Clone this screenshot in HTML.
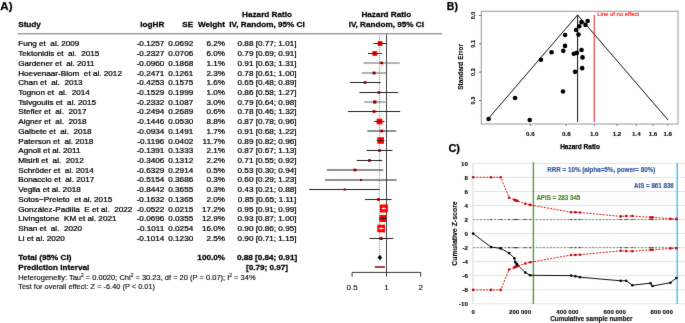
<!DOCTYPE html>
<html><head><meta charset="utf-8"><style>
html,body{margin:0;padding:0;background:#fff;}
body{width:685px;height:323px;overflow:hidden;font-family:"Liberation Sans",sans-serif;}
svg{display:block;} text{white-space:pre;} .n{stroke:#000;stroke-width:0.24px;} .b{stroke:#000;stroke-width:0.25px;} .c{stroke:#000;stroke-width:0.1px;}
</style></head><body>
<svg width="685" height="323" viewBox="0 0 685 323" font-family="Liberation Sans, sans-serif"><defs><filter id="bl" x="0" y="0" width="685" height="323" filterUnits="userSpaceOnUse" color-interpolation-filters="sRGB"><feConvolveMatrix order="3" kernelMatrix="0.0052 0.0619 0.0052 0.0619 0.7314 0.0619 0.0052 0.0619 0.0052" edgeMode="duplicate"/></filter></defs><g filter="url(#bl)"><rect width="685" height="323" fill="#fff"/><text class="b" x="0.30" y="9.80" font-size="11.6" font-weight="bold" text-anchor="start" fill="#000" >A)</text>
<text class="b" transform="translate(18.20,27.00) scale(1.06,1)" font-size="7.7" font-weight="bold" text-anchor="start" fill="#000" >Study</text>
<text class="b" transform="translate(164.30,27.00) scale(1.06,1)" font-size="7.7" font-weight="bold" text-anchor="end" fill="#000" >logHR</text>
<text class="b" transform="translate(193.20,27.00) scale(1.06,1)" font-size="7.7" font-weight="bold" text-anchor="end" fill="#000" >SE</text>
<text class="b" transform="translate(225.00,27.00) scale(1.06,1)" font-size="7.7" font-weight="bold" text-anchor="end" fill="#000" >Weight</text>
<text class="b" transform="translate(267.00,17.00) scale(1.06,1)" font-size="7.7" font-weight="bold" text-anchor="middle" fill="#000" >Hazard Ratio</text>
<text class="b" transform="translate(267.00,27.00) scale(1.06,1)" font-size="7.7" font-weight="bold" text-anchor="middle" fill="#000" >IV, Random, 95% CI</text>
<text class="b" transform="translate(386.30,17.00) scale(1.06,1)" font-size="7.7" font-weight="bold" text-anchor="middle" fill="#000" >Hazard Ratio</text>
<text class="b" transform="translate(386.30,27.00) scale(1.06,1)" font-size="7.7" font-weight="bold" text-anchor="middle" fill="#000" >IV, Random, 95% CI</text>
<rect x="17.7" y="33.0" width="424.6" height="1.4" fill="#9a9a9a"/>
<text class="n" transform="translate(18.20,46.40) scale(1.06,1)" font-size="7.7" font-weight="normal" text-anchor="start" fill="#000" >Fung et  al. 2009</text>
<text class="n" transform="translate(164.30,46.40) scale(1.06,1)" font-size="7.7" font-weight="normal" text-anchor="end" fill="#000" >-0.1257</text>
<text class="n" transform="translate(193.20,46.40) scale(1.06,1)" font-size="7.7" font-weight="normal" text-anchor="end" fill="#000" >0.0692</text>
<text class="n" transform="translate(225.00,46.40) scale(1.06,1)" font-size="7.7" font-weight="normal" text-anchor="end" fill="#000" >6.2%</text>
<text class="n" transform="translate(267.00,46.40) scale(1.06,1)" font-size="7.7" font-weight="normal" text-anchor="middle" fill="#000" >0.88 [0.77; 1.01]</text>
<text class="n" transform="translate(18.20,56.12) scale(1.06,1)" font-size="7.7" font-weight="normal" text-anchor="start" fill="#000" >Tektonidis et  al.  2015</text>
<text class="n" transform="translate(164.30,56.12) scale(1.06,1)" font-size="7.7" font-weight="normal" text-anchor="end" fill="#000" >-0.2327</text>
<text class="n" transform="translate(193.20,56.12) scale(1.06,1)" font-size="7.7" font-weight="normal" text-anchor="end" fill="#000" >0.0706</text>
<text class="n" transform="translate(225.00,56.12) scale(1.06,1)" font-size="7.7" font-weight="normal" text-anchor="end" fill="#000" >6.0%</text>
<text class="n" transform="translate(267.00,56.12) scale(1.06,1)" font-size="7.7" font-weight="normal" text-anchor="middle" fill="#000" >0.79 [0.69; 0.91]</text>
<text class="n" transform="translate(18.20,65.84) scale(1.06,1)" font-size="7.7" font-weight="normal" text-anchor="start" fill="#000" >Gardener et  al. 2011</text>
<text class="n" transform="translate(164.30,65.84) scale(1.06,1)" font-size="7.7" font-weight="normal" text-anchor="end" fill="#000" >-0.0960</text>
<text class="n" transform="translate(193.20,65.84) scale(1.06,1)" font-size="7.7" font-weight="normal" text-anchor="end" fill="#000" >0.1868</text>
<text class="n" transform="translate(225.00,65.84) scale(1.06,1)" font-size="7.7" font-weight="normal" text-anchor="end" fill="#000" >1.1%</text>
<text class="n" transform="translate(267.00,65.84) scale(1.06,1)" font-size="7.7" font-weight="normal" text-anchor="middle" fill="#000" >0.91 [0.63; 1.31]</text>
<text class="n" transform="translate(18.20,75.56) scale(1.06,1)" font-size="7.7" font-weight="normal" text-anchor="start" fill="#000" >Hoevenaar-Blom  et al. 2012</text>
<text class="n" transform="translate(164.30,75.56) scale(1.06,1)" font-size="7.7" font-weight="normal" text-anchor="end" fill="#000" >-0.2471</text>
<text class="n" transform="translate(193.20,75.56) scale(1.06,1)" font-size="7.7" font-weight="normal" text-anchor="end" fill="#000" >0.1261</text>
<text class="n" transform="translate(225.00,75.56) scale(1.06,1)" font-size="7.7" font-weight="normal" text-anchor="end" fill="#000" >2.3%</text>
<text class="n" transform="translate(267.00,75.56) scale(1.06,1)" font-size="7.7" font-weight="normal" text-anchor="middle" fill="#000" >0.78 [0.61; 1.00]</text>
<text class="n" transform="translate(18.20,85.28) scale(1.06,1)" font-size="7.7" font-weight="normal" text-anchor="start" fill="#000" >Chan et  al.  2013</text>
<text class="n" transform="translate(164.30,85.28) scale(1.06,1)" font-size="7.7" font-weight="normal" text-anchor="end" fill="#000" >-0.4253</text>
<text class="n" transform="translate(193.20,85.28) scale(1.06,1)" font-size="7.7" font-weight="normal" text-anchor="end" fill="#000" >0.1575</text>
<text class="n" transform="translate(225.00,85.28) scale(1.06,1)" font-size="7.7" font-weight="normal" text-anchor="end" fill="#000" >1.6%</text>
<text class="n" transform="translate(267.00,85.28) scale(1.06,1)" font-size="7.7" font-weight="normal" text-anchor="middle" fill="#000" >0.65 [0.48; 0.89]</text>
<text class="n" transform="translate(18.20,95.00) scale(1.06,1)" font-size="7.7" font-weight="normal" text-anchor="start" fill="#000" >Tognon et  al.  2014</text>
<text class="n" transform="translate(164.30,95.00) scale(1.06,1)" font-size="7.7" font-weight="normal" text-anchor="end" fill="#000" >-0.1529</text>
<text class="n" transform="translate(193.20,95.00) scale(1.06,1)" font-size="7.7" font-weight="normal" text-anchor="end" fill="#000" >0.1999</text>
<text class="n" transform="translate(225.00,95.00) scale(1.06,1)" font-size="7.7" font-weight="normal" text-anchor="end" fill="#000" >1.0%</text>
<text class="n" transform="translate(267.00,95.00) scale(1.06,1)" font-size="7.7" font-weight="normal" text-anchor="middle" fill="#000" >0.86 [0.58; 1.27]</text>
<text class="n" transform="translate(18.20,104.72) scale(1.06,1)" font-size="7.7" font-weight="normal" text-anchor="start" fill="#000" >Tsivgoulis et  al. 2015</text>
<text class="n" transform="translate(164.30,104.72) scale(1.06,1)" font-size="7.7" font-weight="normal" text-anchor="end" fill="#000" >-0.2332</text>
<text class="n" transform="translate(193.20,104.72) scale(1.06,1)" font-size="7.7" font-weight="normal" text-anchor="end" fill="#000" >0.1087</text>
<text class="n" transform="translate(225.00,104.72) scale(1.06,1)" font-size="7.7" font-weight="normal" text-anchor="end" fill="#000" >3.0%</text>
<text class="n" transform="translate(267.00,104.72) scale(1.06,1)" font-size="7.7" font-weight="normal" text-anchor="middle" fill="#000" >0.79 [0.64; 0.98]</text>
<text class="n" transform="translate(18.20,114.44) scale(1.06,1)" font-size="7.7" font-weight="normal" text-anchor="start" fill="#000" >Stefler et  al.  2017</text>
<text class="n" transform="translate(164.30,114.44) scale(1.06,1)" font-size="7.7" font-weight="normal" text-anchor="end" fill="#000" >-0.2494</text>
<text class="n" transform="translate(193.20,114.44) scale(1.06,1)" font-size="7.7" font-weight="normal" text-anchor="end" fill="#000" >0.2689</text>
<text class="n" transform="translate(225.00,114.44) scale(1.06,1)" font-size="7.7" font-weight="normal" text-anchor="end" fill="#000" >0.6%</text>
<text class="n" transform="translate(267.00,114.44) scale(1.06,1)" font-size="7.7" font-weight="normal" text-anchor="middle" fill="#000" >0.78 [0.46; 1.32]</text>
<text class="n" transform="translate(18.20,124.16) scale(1.06,1)" font-size="7.7" font-weight="normal" text-anchor="start" fill="#000" >Aigner et  al.  2018</text>
<text class="n" transform="translate(164.30,124.16) scale(1.06,1)" font-size="7.7" font-weight="normal" text-anchor="end" fill="#000" >-0.1446</text>
<text class="n" transform="translate(193.20,124.16) scale(1.06,1)" font-size="7.7" font-weight="normal" text-anchor="end" fill="#000" >0.0530</text>
<text class="n" transform="translate(225.00,124.16) scale(1.06,1)" font-size="7.7" font-weight="normal" text-anchor="end" fill="#000" >8.8%</text>
<text class="n" transform="translate(267.00,124.16) scale(1.06,1)" font-size="7.7" font-weight="normal" text-anchor="middle" fill="#000" >0.87 [0.78; 0.96]</text>
<text class="n" transform="translate(18.20,133.88) scale(1.06,1)" font-size="7.7" font-weight="normal" text-anchor="start" fill="#000" >Galbete et  al.  2018</text>
<text class="n" transform="translate(164.30,133.88) scale(1.06,1)" font-size="7.7" font-weight="normal" text-anchor="end" fill="#000" >-0.0934</text>
<text class="n" transform="translate(193.20,133.88) scale(1.06,1)" font-size="7.7" font-weight="normal" text-anchor="end" fill="#000" >0.1491</text>
<text class="n" transform="translate(225.00,133.88) scale(1.06,1)" font-size="7.7" font-weight="normal" text-anchor="end" fill="#000" >1.7%</text>
<text class="n" transform="translate(267.00,133.88) scale(1.06,1)" font-size="7.7" font-weight="normal" text-anchor="middle" fill="#000" >0.91 [0.68; 1.22]</text>
<text class="n" transform="translate(18.20,143.60) scale(1.06,1)" font-size="7.7" font-weight="normal" text-anchor="start" fill="#000" >Paterson et  al. 2018</text>
<text class="n" transform="translate(164.30,143.60) scale(1.06,1)" font-size="7.7" font-weight="normal" text-anchor="end" fill="#000" >-0.1196</text>
<text class="n" transform="translate(193.20,143.60) scale(1.06,1)" font-size="7.7" font-weight="normal" text-anchor="end" fill="#000" >0.0402</text>
<text class="n" transform="translate(225.00,143.60) scale(1.06,1)" font-size="7.7" font-weight="normal" text-anchor="end" fill="#000" >11.7%</text>
<text class="n" transform="translate(267.00,143.60) scale(1.06,1)" font-size="7.7" font-weight="normal" text-anchor="middle" fill="#000" >0.89 [0.82; 0.96]</text>
<text class="n" transform="translate(18.20,153.32) scale(1.06,1)" font-size="7.7" font-weight="normal" text-anchor="start" fill="#000" >Agnoli et al. 2011</text>
<text class="n" transform="translate(164.30,153.32) scale(1.06,1)" font-size="7.7" font-weight="normal" text-anchor="end" fill="#000" >-0.1391</text>
<text class="n" transform="translate(193.20,153.32) scale(1.06,1)" font-size="7.7" font-weight="normal" text-anchor="end" fill="#000" >0.1333</text>
<text class="n" transform="translate(225.00,153.32) scale(1.06,1)" font-size="7.7" font-weight="normal" text-anchor="end" fill="#000" >2.1%</text>
<text class="n" transform="translate(267.00,153.32) scale(1.06,1)" font-size="7.7" font-weight="normal" text-anchor="middle" fill="#000" >0.87 [0.67; 1.13]</text>
<text class="n" transform="translate(18.20,163.04) scale(1.06,1)" font-size="7.7" font-weight="normal" text-anchor="start" fill="#000" >Misirli et  al.  2012</text>
<text class="n" transform="translate(164.30,163.04) scale(1.06,1)" font-size="7.7" font-weight="normal" text-anchor="end" fill="#000" >-0.3406</text>
<text class="n" transform="translate(193.20,163.04) scale(1.06,1)" font-size="7.7" font-weight="normal" text-anchor="end" fill="#000" >0.1312</text>
<text class="n" transform="translate(225.00,163.04) scale(1.06,1)" font-size="7.7" font-weight="normal" text-anchor="end" fill="#000" >2.2%</text>
<text class="n" transform="translate(267.00,163.04) scale(1.06,1)" font-size="7.7" font-weight="normal" text-anchor="middle" fill="#000" >0.71 [0.55; 0.92]</text>
<text class="n" transform="translate(18.20,172.76) scale(1.06,1)" font-size="7.7" font-weight="normal" text-anchor="start" fill="#000" >Schröder et  al. 2014</text>
<text class="n" transform="translate(164.30,172.76) scale(1.06,1)" font-size="7.7" font-weight="normal" text-anchor="end" fill="#000" >-0.6329</text>
<text class="n" transform="translate(193.20,172.76) scale(1.06,1)" font-size="7.7" font-weight="normal" text-anchor="end" fill="#000" >0.2914</text>
<text class="n" transform="translate(225.00,172.76) scale(1.06,1)" font-size="7.7" font-weight="normal" text-anchor="end" fill="#000" >0.5%</text>
<text class="n" transform="translate(267.00,172.76) scale(1.06,1)" font-size="7.7" font-weight="normal" text-anchor="middle" fill="#000" >0.53 [0.30; 0.94]</text>
<text class="n" transform="translate(18.20,182.48) scale(1.06,1)" font-size="7.7" font-weight="normal" text-anchor="start" fill="#000" >Bonaccio et  al. 2017</text>
<text class="n" transform="translate(164.30,182.48) scale(1.06,1)" font-size="7.7" font-weight="normal" text-anchor="end" fill="#000" >-0.5154</text>
<text class="n" transform="translate(193.20,182.48) scale(1.06,1)" font-size="7.7" font-weight="normal" text-anchor="end" fill="#000" >0.3686</text>
<text class="n" transform="translate(225.00,182.48) scale(1.06,1)" font-size="7.7" font-weight="normal" text-anchor="end" fill="#000" >0.3%</text>
<text class="n" transform="translate(267.00,182.48) scale(1.06,1)" font-size="7.7" font-weight="normal" text-anchor="middle" fill="#000" >0.60 [0.29; 1.23]</text>
<text class="n" transform="translate(18.20,192.20) scale(1.06,1)" font-size="7.7" font-weight="normal" text-anchor="start" fill="#000" >Veglia et al. 2018</text>
<text class="n" transform="translate(164.30,192.20) scale(1.06,1)" font-size="7.7" font-weight="normal" text-anchor="end" fill="#000" >-0.8442</text>
<text class="n" transform="translate(193.20,192.20) scale(1.06,1)" font-size="7.7" font-weight="normal" text-anchor="end" fill="#000" >0.3655</text>
<text class="n" transform="translate(225.00,192.20) scale(1.06,1)" font-size="7.7" font-weight="normal" text-anchor="end" fill="#000" >0.3%</text>
<text class="n" transform="translate(267.00,192.20) scale(1.06,1)" font-size="7.7" font-weight="normal" text-anchor="middle" fill="#000" >0.43 [0.21; 0.88]</text>
<text class="n" transform="translate(18.20,201.92) scale(1.06,1)" font-size="7.7" font-weight="normal" text-anchor="start" fill="#000" >Sotos−Preieto  et al. 2015</text>
<text class="n" transform="translate(164.30,201.92) scale(1.06,1)" font-size="7.7" font-weight="normal" text-anchor="end" fill="#000" >-0.1632</text>
<text class="n" transform="translate(193.20,201.92) scale(1.06,1)" font-size="7.7" font-weight="normal" text-anchor="end" fill="#000" >0.1365</text>
<text class="n" transform="translate(225.00,201.92) scale(1.06,1)" font-size="7.7" font-weight="normal" text-anchor="end" fill="#000" >2.0%</text>
<text class="n" transform="translate(267.00,201.92) scale(1.06,1)" font-size="7.7" font-weight="normal" text-anchor="middle" fill="#000" >0.85 [0.65; 1.11]</text>
<text class="n" transform="translate(18.20,211.64) scale(1.06,1)" font-size="7.7" font-weight="normal" text-anchor="start" fill="#000" >González-Padilla  E et al.  2022</text>
<text class="n" transform="translate(164.30,211.64) scale(1.06,1)" font-size="7.7" font-weight="normal" text-anchor="end" fill="#000" >-0.0522</text>
<text class="n" transform="translate(193.20,211.64) scale(1.06,1)" font-size="7.7" font-weight="normal" text-anchor="end" fill="#000" >0.0215</text>
<text class="n" transform="translate(225.00,211.64) scale(1.06,1)" font-size="7.7" font-weight="normal" text-anchor="end" fill="#000" >17.2%</text>
<text class="n" transform="translate(267.00,211.64) scale(1.06,1)" font-size="7.7" font-weight="normal" text-anchor="middle" fill="#000" >0.95 [0.91; 0.99]</text>
<text class="n" transform="translate(18.20,221.36) scale(1.06,1)" font-size="7.7" font-weight="normal" text-anchor="start" fill="#000" >Livingstone  KM et al. 2021</text>
<text class="n" transform="translate(164.30,221.36) scale(1.06,1)" font-size="7.7" font-weight="normal" text-anchor="end" fill="#000" >-0.0696</text>
<text class="n" transform="translate(193.20,221.36) scale(1.06,1)" font-size="7.7" font-weight="normal" text-anchor="end" fill="#000" >0.0355</text>
<text class="n" transform="translate(225.00,221.36) scale(1.06,1)" font-size="7.7" font-weight="normal" text-anchor="end" fill="#000" >12.9%</text>
<text class="n" transform="translate(267.00,221.36) scale(1.06,1)" font-size="7.7" font-weight="normal" text-anchor="middle" fill="#000" >0.93 [0.87; 1.00]</text>
<text class="n" transform="translate(18.20,231.08) scale(1.06,1)" font-size="7.7" font-weight="normal" text-anchor="start" fill="#000" >Shan et  al.  2020</text>
<text class="n" transform="translate(164.30,231.08) scale(1.06,1)" font-size="7.7" font-weight="normal" text-anchor="end" fill="#000" >-0.1011</text>
<text class="n" transform="translate(193.20,231.08) scale(1.06,1)" font-size="7.7" font-weight="normal" text-anchor="end" fill="#000" >0.0254</text>
<text class="n" transform="translate(225.00,231.08) scale(1.06,1)" font-size="7.7" font-weight="normal" text-anchor="end" fill="#000" >16.0%</text>
<text class="n" transform="translate(267.00,231.08) scale(1.06,1)" font-size="7.7" font-weight="normal" text-anchor="middle" fill="#000" >0.90 [0.86; 0.95]</text>
<text class="n" transform="translate(18.20,240.80) scale(1.06,1)" font-size="7.7" font-weight="normal" text-anchor="start" fill="#000" >Li et al. 2020</text>
<text class="n" transform="translate(164.30,240.80) scale(1.06,1)" font-size="7.7" font-weight="normal" text-anchor="end" fill="#000" >-0.1014</text>
<text class="n" transform="translate(193.20,240.80) scale(1.06,1)" font-size="7.7" font-weight="normal" text-anchor="end" fill="#000" >0.1230</text>
<text class="n" transform="translate(225.00,240.80) scale(1.06,1)" font-size="7.7" font-weight="normal" text-anchor="end" fill="#000" >2.5%</text>
<text class="n" transform="translate(267.00,240.80) scale(1.06,1)" font-size="7.7" font-weight="normal" text-anchor="middle" fill="#000" >0.90 [0.71; 1.15]</text>
<text class="b" transform="translate(18.20,260.20) scale(1.06,1)" font-size="7.7" font-weight="bold" text-anchor="start" fill="#000" >Total (95% CI)</text>
<text class="b" transform="translate(225.00,260.20) scale(1.06,1)" font-size="7.7" font-weight="bold" text-anchor="end" fill="#000" >100.0%</text>
<text class="b" transform="translate(267.00,260.20) scale(1.06,1)" font-size="7.7" font-weight="bold" text-anchor="middle" fill="#000" >0.88 [0.84; 0.91]</text>
<text class="b" transform="translate(18.20,269.80) scale(1.06,1)" font-size="7.7" font-weight="bold" text-anchor="start" fill="#000" >Prediction interval</text>
<text class="b" transform="translate(267.00,269.80) scale(1.06,1)" font-size="7.7" font-weight="bold" text-anchor="middle" fill="#000" >[0.79; 0.97]</text>
<text stroke="#000" stroke-width="0.12" transform="translate(18.2,279.8) scale(1.073,1)" font-size="7.0" fill="#000">Heterogeneity: Tau<tspan font-size="4.5" dy="-2.6">2</tspan><tspan dy="2.6"> = 0.0020; Chi</tspan><tspan font-size="4.5" dy="-2.6">2</tspan><tspan dy="2.6"> = 30.23, df = 20 (P = 0.07); I</tspan><tspan font-size="4.5" dy="-2.6">2</tspan><tspan dy="2.6"> = 34%</tspan></text>
<text transform="translate(18.20,288.50) scale(1.06,1)" font-size="7.0" font-weight="normal" text-anchor="start" fill="#0a0a0a" stroke="#0a0a0a" stroke-width="0.12">Test for overall effect: Z = -6.40 (P &lt; 0.01)</text>
<line x1="379.5" y1="35" x2="379.5" y2="256" stroke="#8a8a8a" stroke-width="0.9" stroke-dasharray="1,1"/>
<line x1="386.5" y1="34.4" x2="386.5" y2="272.4" stroke="#444" stroke-width="1"/>
<line x1="373.46" y1="43.50" x2="386.89" y2="43.50" stroke="#222" stroke-width="1"/>
<rect x="377.67" y="41.10" width="4.81" height="4.81" fill="#ff0000"/>
<line x1="377.67" y1="43.50" x2="382.48" y2="43.50" stroke="#222" stroke-width="0.9"/>
<rect x="379.17" y="42.60" width="1.8" height="1.8" fill="#600"/>
<line x1="368.03" y1="53.50" x2="381.73" y2="53.50" stroke="#222" stroke-width="1"/>
<rect x="372.37" y="51.14" width="4.73" height="4.73" fill="#ff0000"/>
<line x1="372.37" y1="53.50" x2="377.10" y2="53.50" stroke="#222" stroke-width="0.9"/>
<rect x="373.83" y="52.60" width="1.8" height="1.8" fill="#600"/>
<line x1="363.53" y1="63.00" x2="399.77" y2="63.00" stroke="#666" stroke-width="1"/>
<rect x="380.33" y="61.60" width="2.80" height="2.80" fill="#ff0000"/>
<line x1="380.33" y1="63.00" x2="383.13" y2="63.00" stroke="#222" stroke-width="0.9"/>
<rect x="380.83" y="62.10" width="1.8" height="1.8" fill="#600"/>
<line x1="361.93" y1="73.00" x2="386.40" y2="73.00" stroke="#666" stroke-width="1"/>
<rect x="372.64" y="71.54" width="2.93" height="2.93" fill="#ff0000"/>
<line x1="372.64" y1="73.00" x2="375.56" y2="73.00" stroke="#222" stroke-width="0.9"/>
<rect x="373.20" y="72.10" width="1.8" height="1.8" fill="#600"/>
<line x1="350.07" y1="82.50" x2="380.63" y2="82.50" stroke="#222" stroke-width="1"/>
<rect x="363.68" y="81.10" width="2.80" height="2.80" fill="#ff0000"/>
<line x1="363.68" y1="82.50" x2="366.48" y2="82.50" stroke="#222" stroke-width="0.9"/>
<rect x="364.18" y="81.60" width="1.8" height="1.8" fill="#600"/>
<line x1="359.44" y1="92.50" x2="398.23" y2="92.50" stroke="#222" stroke-width="1"/>
<rect x="377.53" y="91.10" width="2.80" height="2.80" fill="#ff0000"/>
<line x1="377.53" y1="92.50" x2="380.33" y2="92.50" stroke="#222" stroke-width="0.9"/>
<rect x="378.03" y="91.60" width="1.8" height="1.8" fill="#600"/>
<line x1="364.31" y1="102.00" x2="385.40" y2="102.00" stroke="#666" stroke-width="1"/>
<rect x="373.06" y="100.33" width="3.34" height="3.34" fill="#ff0000"/>
<line x1="373.06" y1="102.00" x2="376.40" y2="102.00" stroke="#222" stroke-width="0.9"/>
<rect x="373.83" y="101.10" width="1.8" height="1.8" fill="#600"/>
<line x1="347.96" y1="111.50" x2="400.14" y2="111.50" stroke="#222" stroke-width="1"/>
<rect x="372.70" y="110.10" width="2.80" height="2.80" fill="#ff0000"/>
<line x1="372.70" y1="111.50" x2="375.50" y2="111.50" stroke="#222" stroke-width="0.9"/>
<rect x="373.20" y="110.60" width="1.8" height="1.8" fill="#600"/>
<line x1="374.10" y1="121.50" x2="384.38" y2="121.50" stroke="#222" stroke-width="1"/>
<rect x="376.64" y="118.64" width="5.73" height="5.73" fill="#ff0000"/>
<line x1="376.64" y1="121.50" x2="382.37" y2="121.50" stroke="#222" stroke-width="0.9"/>
<rect x="378.61" y="120.60" width="1.8" height="1.8" fill="#600"/>
<line x1="367.31" y1="131.00" x2="396.24" y2="131.00" stroke="#222" stroke-width="1"/>
<rect x="380.33" y="129.60" width="2.80" height="2.80" fill="#ff0000"/>
<line x1="380.33" y1="131.00" x2="383.13" y2="131.00" stroke="#222" stroke-width="0.9"/>
<rect x="380.83" y="130.10" width="1.8" height="1.8" fill="#600"/>
<line x1="376.58" y1="140.50" x2="384.38" y2="140.50" stroke="#222" stroke-width="1"/>
<rect x="377.33" y="137.20" width="6.60" height="6.60" fill="#ff0000"/>
<line x1="377.33" y1="140.50" x2="383.93" y2="140.50" stroke="#222" stroke-width="0.9"/>
<rect x="379.73" y="139.60" width="1.8" height="1.8" fill="#600"/>
<line x1="366.58" y1="150.50" x2="392.45" y2="150.50" stroke="#222" stroke-width="1"/>
<rect x="378.11" y="149.10" width="2.80" height="2.80" fill="#ff0000"/>
<line x1="378.11" y1="150.50" x2="380.91" y2="150.50" stroke="#222" stroke-width="0.9"/>
<rect x="378.61" y="149.60" width="1.8" height="1.8" fill="#600"/>
<line x1="356.81" y1="160.50" x2="382.27" y2="160.50" stroke="#222" stroke-width="1"/>
<rect x="368.02" y="159.07" width="2.86" height="2.86" fill="#ff0000"/>
<line x1="368.02" y1="160.50" x2="370.88" y2="160.50" stroke="#222" stroke-width="0.9"/>
<rect x="368.55" y="159.60" width="1.8" height="1.8" fill="#600"/>
<line x1="326.80" y1="170.00" x2="383.34" y2="170.00" stroke="#222" stroke-width="1"/>
<rect x="353.57" y="168.60" width="2.80" height="2.80" fill="#ff0000"/>
<line x1="353.57" y1="170.00" x2="356.37" y2="170.00" stroke="#222" stroke-width="0.9"/>
<rect x="354.07" y="169.10" width="1.8" height="1.8" fill="#600"/>
<line x1="325.13" y1="180.00" x2="396.65" y2="180.00" stroke="#222" stroke-width="1"/>
<rect x="360.11" y="179.00" width="2.00" height="2.00" fill="#ff0000"/>
<line x1="360.11" y1="180.00" x2="362.11" y2="180.00" stroke="#222" stroke-width="0.9"/>
<rect x="360.36" y="179.25" width="1.5" height="1.5" fill="#600"/>
<line x1="309.15" y1="189.50" x2="380.07" y2="189.50" stroke="#222" stroke-width="1"/>
<rect x="343.62" y="188.50" width="2.00" height="2.00" fill="#ff0000"/>
<line x1="343.62" y1="189.50" x2="345.62" y2="189.50" stroke="#222" stroke-width="0.9"/>
<rect x="343.87" y="188.75" width="1.5" height="1.5" fill="#600"/>
<line x1="365.08" y1="199.50" x2="391.57" y2="199.50" stroke="#222" stroke-width="1"/>
<rect x="376.96" y="198.10" width="2.80" height="2.80" fill="#ff0000"/>
<line x1="376.96" y1="199.50" x2="379.76" y2="199.50" stroke="#222" stroke-width="0.9"/>
<rect x="377.46" y="198.60" width="1.8" height="1.8" fill="#600"/>
<line x1="381.73" y1="208.50" x2="385.90" y2="208.50" stroke="#222" stroke-width="1"/>
<rect x="379.86" y="204.50" width="8.00" height="8.00" fill="#ff0000"/>
<line x1="381.73" y1="208.50" x2="385.90" y2="208.50" stroke="#ffffff" stroke-width="0.9"/>
<line x1="383.86" y1="206.90" x2="383.86" y2="210.10" stroke="#fff" stroke-width="0.8"/>
<line x1="379.51" y1="218.50" x2="386.40" y2="218.50" stroke="#222" stroke-width="1"/>
<rect x="379.34" y="215.03" width="6.93" height="6.93" fill="#ff0000"/>
<line x1="379.51" y1="218.50" x2="386.27" y2="218.50" stroke="#222" stroke-width="0.9"/>
<rect x="381.91" y="217.60" width="1.8" height="1.8" fill="#600"/>
<line x1="378.93" y1="228.50" x2="383.86" y2="228.50" stroke="#222" stroke-width="1"/>
<rect x="377.32" y="224.64" width="7.72" height="7.72" fill="#ff0000"/>
<line x1="378.93" y1="228.50" x2="383.86" y2="228.50" stroke="#ffffff" stroke-width="0.9"/>
<line x1="381.18" y1="226.90" x2="381.18" y2="230.10" stroke="#fff" stroke-width="0.8"/>
<line x1="369.45" y1="238.50" x2="393.32" y2="238.50" stroke="#222" stroke-width="1"/>
<rect x="379.66" y="236.97" width="3.05" height="3.05" fill="#ff0000"/>
<line x1="379.66" y1="238.50" x2="382.71" y2="238.50" stroke="#222" stroke-width="0.9"/>
<rect x="380.28" y="237.60" width="1.8" height="1.8" fill="#600"/>
<polygon points="377.47,257.6 380.07,255.00000000000003 382.03,257.6 380.07,260.20000000000005" fill="#000"/>
<rect x="374.73" y="266.2" width="10.16" height="1.6" fill="#a01010"/>
<path d="M352.1,272.4 H420.7 M352.1,272.4 V276.7 M386.5,272.4 V276.7 M420.7,272.4 V276.7" stroke="#333" stroke-width="1" fill="none"/>
<text transform="translate(352.10,290.00) scale(1.06,1)" font-size="7.7" font-weight="normal" text-anchor="middle" fill="#111" stroke="#111" stroke-width="0.1">0.5</text>
<text transform="translate(386.50,290.00) scale(1.06,1)" font-size="7.7" font-weight="normal" text-anchor="middle" fill="#111" stroke="#111" stroke-width="0.1">1</text>
<text transform="translate(420.70,290.00) scale(1.06,1)" font-size="7.7" font-weight="normal" text-anchor="middle" fill="#111" stroke="#111" stroke-width="0.1">2</text>
<text class="b" x="446.80" y="10.30" font-size="10.5" font-weight="bold" text-anchor="start" fill="#000" >B)</text>
<rect x="481.3" y="11.3" width="196.7" height="112.7" fill="none" stroke="#999" stroke-width="1"/>
<polyline points="487.12,120.06 577.60,14.90 668.08,120.06" fill="none" stroke="#111" stroke-width="1"/>
<line x1="577.60" y1="14.90" x2="577.60" y2="122" stroke="#111" stroke-width="1"/>
<line x1="594.2" y1="15" x2="594.2" y2="122" stroke="#ee1c1c" stroke-width="1"/>
<text x="597.20" y="16.30" font-size="5.9" font-weight="normal" text-anchor="start" fill="#ff1a1a" stroke="#ff1a1a" stroke-width="0.15">Line of no effect</text>
<circle cx="578.47" cy="34.62" r="2.3" fill="#000"/>
<circle cx="565.09" cy="35.02" r="2.3" fill="#000"/>
<circle cx="582.19" cy="68.14" r="2.3" fill="#000"/>
<circle cx="563.29" cy="50.84" r="2.3" fill="#000"/>
<circle cx="540.99" cy="59.79" r="2.3" fill="#000"/>
<circle cx="575.07" cy="71.87" r="2.3" fill="#000"/>
<circle cx="565.03" cy="45.88" r="2.3" fill="#000"/>
<circle cx="563.00" cy="91.54" r="2.3" fill="#000"/>
<circle cx="576.11" cy="30.01" r="2.3" fill="#000"/>
<circle cx="582.52" cy="57.39" r="2.3" fill="#000"/>
<circle cx="579.24" cy="26.36" r="2.3" fill="#000"/>
<circle cx="576.80" cy="52.89" r="2.3" fill="#000"/>
<circle cx="551.59" cy="52.29" r="2.3" fill="#000"/>
<circle cx="515.02" cy="97.95" r="2.3" fill="#000"/>
<circle cx="529.72" cy="119.95" r="2.3" fill="#000"/>
<circle cx="488.59" cy="119.07" r="2.3" fill="#000"/>
<circle cx="573.78" cy="53.80" r="2.3" fill="#000"/>
<circle cx="587.67" cy="21.03" r="2.3" fill="#000"/>
<circle cx="585.49" cy="25.02" r="2.3" fill="#000"/>
<circle cx="581.55" cy="22.14" r="2.3" fill="#000"/>
<circle cx="581.51" cy="49.95" r="2.3" fill="#000"/>
<line x1="479" y1="15.40" x2="481.3" y2="15.40" stroke="#555" stroke-width="0.9"/>
<text transform="translate(474.7,15.40) rotate(-90)" font-size="5.6" font-weight="bold" text-anchor="middle" fill="#000" class="c">0.0</text>
<line x1="479" y1="43.77" x2="481.3" y2="43.77" stroke="#555" stroke-width="0.9"/>
<text transform="translate(474.7,43.77) rotate(-90)" font-size="5.6" font-weight="bold" text-anchor="middle" fill="#000" class="c">0.1</text>
<line x1="479" y1="72.14" x2="481.3" y2="72.14" stroke="#555" stroke-width="0.9"/>
<text transform="translate(474.7,72.14) rotate(-90)" font-size="5.6" font-weight="bold" text-anchor="middle" fill="#000" class="c">0.2</text>
<line x1="479" y1="100.51" x2="481.3" y2="100.51" stroke="#555" stroke-width="0.9"/>
<text transform="translate(474.7,100.51) rotate(-90)" font-size="5.6" font-weight="bold" text-anchor="middle" fill="#000" class="c">0.3</text>
<text transform="translate(462.6,66.9) rotate(-90)" font-size="6.5" font-weight="bold" text-anchor="middle" fill="#000" class="c">Standard Error</text>
<line x1="530.30" y1="124" x2="530.30" y2="126" stroke="#666" stroke-width="0.8"/>
<text x="530.30" y="136.3" font-size="6.2" font-weight="bold" text-anchor="middle" fill="#000" class="c">0.6</text>
<line x1="566.28" y1="124" x2="566.28" y2="126" stroke="#666" stroke-width="0.8"/>
<text x="566.28" y="136.3" font-size="6.2" font-weight="bold" text-anchor="middle" fill="#000" class="c">0.8</text>
<line x1="594.20" y1="124" x2="594.20" y2="126" stroke="#666" stroke-width="0.8"/>
<text x="594.20" y="136.3" font-size="6.2" font-weight="bold" text-anchor="middle" fill="#000" class="c">1.0</text>
<line x1="617.01" y1="124" x2="617.01" y2="126" stroke="#666" stroke-width="0.8"/>
<text x="617.01" y="136.3" font-size="6.2" font-weight="bold" text-anchor="middle" fill="#000" class="c">1.2</text>
<line x1="636.29" y1="124" x2="636.29" y2="126" stroke="#666" stroke-width="0.8"/>
<text x="636.29" y="136.3" font-size="6.2" font-weight="bold" text-anchor="middle" fill="#000" class="c">1.4</text>
<line x1="653.00" y1="124" x2="653.00" y2="126" stroke="#666" stroke-width="0.8"/>
<text x="653.00" y="136.3" font-size="6.2" font-weight="bold" text-anchor="middle" fill="#000" class="c">1.6</text>
<line x1="667.73" y1="124" x2="667.73" y2="126" stroke="#666" stroke-width="0.8"/>
<text x="667.73" y="136.3" font-size="6.2" font-weight="bold" text-anchor="middle" fill="#000" class="c">1.8</text>
<text class="b" x="580.00" y="149.00" font-size="6.5" font-weight="bold" text-anchor="middle" fill="#000" class="c">Hazard Ratio</text>
<text class="b" x="448.40" y="151.60" font-size="11" font-weight="bold" text-anchor="start" fill="#000" >C)</text>
<line x1="473" y1="303.80" x2="685" y2="303.80" stroke="#e3e3e3" stroke-width="1"/>
<text x="467.9" y="306.40" font-size="6.2" font-weight="bold" text-anchor="end" fill="#000" class="c">-10</text>
<line x1="473" y1="289.76" x2="685" y2="289.76" stroke="#e3e3e3" stroke-width="1"/>
<text x="467.9" y="292.36" font-size="6.2" font-weight="bold" text-anchor="end" fill="#000" class="c">-8</text>
<line x1="473" y1="275.72" x2="685" y2="275.72" stroke="#e3e3e3" stroke-width="1"/>
<text x="467.9" y="278.32" font-size="6.2" font-weight="bold" text-anchor="end" fill="#000" class="c">-6</text>
<line x1="473" y1="261.68" x2="685" y2="261.68" stroke="#e3e3e3" stroke-width="1"/>
<text x="467.9" y="264.28" font-size="6.2" font-weight="bold" text-anchor="end" fill="#000" class="c">-4</text>
<line x1="473" y1="247.64" x2="685" y2="247.64" stroke="#e3e3e3" stroke-width="1"/>
<text x="467.9" y="250.24" font-size="6.2" font-weight="bold" text-anchor="end" fill="#000" class="c">-2</text>
<line x1="473" y1="233.60" x2="685" y2="233.60" stroke="#e3e3e3" stroke-width="1"/>
<text x="467.9" y="236.20" font-size="6.2" font-weight="bold" text-anchor="end" fill="#000" class="c">0</text>
<line x1="473" y1="219.56" x2="685" y2="219.56" stroke="#e3e3e3" stroke-width="1"/>
<text x="467.9" y="222.16" font-size="6.2" font-weight="bold" text-anchor="end" fill="#000" class="c">2</text>
<line x1="473" y1="205.52" x2="685" y2="205.52" stroke="#e3e3e3" stroke-width="1"/>
<text x="467.9" y="208.12" font-size="6.2" font-weight="bold" text-anchor="end" fill="#000" class="c">4</text>
<line x1="473" y1="191.48" x2="685" y2="191.48" stroke="#e3e3e3" stroke-width="1"/>
<text x="467.9" y="194.08" font-size="6.2" font-weight="bold" text-anchor="end" fill="#000" class="c">6</text>
<line x1="473" y1="177.44" x2="685" y2="177.44" stroke="#e3e3e3" stroke-width="1"/>
<text x="467.9" y="180.04" font-size="6.2" font-weight="bold" text-anchor="end" fill="#000" class="c">8</text>
<line x1="473" y1="163.40" x2="685" y2="163.40" stroke="#e3e3e3" stroke-width="1"/>
<text x="467.9" y="166.00" font-size="6.2" font-weight="bold" text-anchor="end" fill="#000" class="c">10</text>
<line x1="473" y1="163.40" x2="473" y2="303.80" stroke="#d6d6d6" stroke-width="1"/>
<text transform="translate(457.4,233.5) rotate(-90)" font-size="6.95" font-weight="bold" text-anchor="middle" fill="#000" class="c">Cumulative Z-score</text>
<text x="473.2" y="313.6" font-size="6.15" font-weight="bold" text-anchor="middle" fill="#000" class="c">0</text>
<text x="520.1" y="313.6" font-size="6.15" font-weight="bold" text-anchor="middle" fill="#000" class="c">200 000</text>
<text x="567.4" y="313.6" font-size="6.15" font-weight="bold" text-anchor="middle" fill="#000" class="c">400 000</text>
<text x="614.7" y="313.6" font-size="6.15" font-weight="bold" text-anchor="middle" fill="#000" class="c">600 000</text>
<text x="661.7" y="313.6" font-size="6.15" font-weight="bold" text-anchor="middle" fill="#000" class="c">800 000</text>
<text x="591.4" y="321.4" font-size="6.3" font-weight="bold" text-anchor="middle" fill="#000" class="c">Cumulative sample number</text>
<line x1="533.4" y1="162.2" x2="533.4" y2="304" stroke="#5c9a40" stroke-width="1.4"/>
<line x1="677.2" y1="163" x2="677.2" y2="304" stroke="#52c3f2" stroke-width="1.5"/>
<line x1="473" y1="219.56" x2="680" y2="219.56" stroke="#6aa84f" stroke-width="1" stroke-dasharray="2,1.5"/>
<line x1="473" y1="247.64" x2="680" y2="247.64" stroke="#6aa84f" stroke-width="1" stroke-dasharray="2,1.5"/>
<line x1="489.90" y1="219.56" x2="492.10" y2="219.56" stroke="#444" stroke-width="1"/>
<line x1="489.90" y1="247.64" x2="492.10" y2="247.64" stroke="#444" stroke-width="1"/>
<line x1="499.60" y1="219.56" x2="501.80" y2="219.56" stroke="#444" stroke-width="1"/>
<line x1="499.60" y1="247.64" x2="501.80" y2="247.64" stroke="#444" stroke-width="1"/>
<line x1="508.00" y1="219.56" x2="510.20" y2="219.56" stroke="#444" stroke-width="1"/>
<line x1="508.00" y1="247.64" x2="510.20" y2="247.64" stroke="#444" stroke-width="1"/>
<line x1="513.30" y1="219.56" x2="515.50" y2="219.56" stroke="#444" stroke-width="1"/>
<line x1="513.30" y1="247.64" x2="515.50" y2="247.64" stroke="#444" stroke-width="1"/>
<line x1="514.20" y1="219.56" x2="516.40" y2="219.56" stroke="#444" stroke-width="1"/>
<line x1="514.20" y1="247.64" x2="516.40" y2="247.64" stroke="#444" stroke-width="1"/>
<line x1="515.40" y1="219.56" x2="517.60" y2="219.56" stroke="#444" stroke-width="1"/>
<line x1="515.40" y1="247.64" x2="517.60" y2="247.64" stroke="#444" stroke-width="1"/>
<line x1="516.10" y1="219.56" x2="518.30" y2="219.56" stroke="#444" stroke-width="1"/>
<line x1="516.10" y1="247.64" x2="518.30" y2="247.64" stroke="#444" stroke-width="1"/>
<line x1="524.20" y1="219.56" x2="526.40" y2="219.56" stroke="#444" stroke-width="1"/>
<line x1="524.20" y1="247.64" x2="526.40" y2="247.64" stroke="#444" stroke-width="1"/>
<line x1="529.10" y1="219.56" x2="531.30" y2="219.56" stroke="#444" stroke-width="1"/>
<line x1="529.10" y1="247.64" x2="531.30" y2="247.64" stroke="#444" stroke-width="1"/>
<line x1="570.00" y1="219.56" x2="572.20" y2="219.56" stroke="#444" stroke-width="1"/>
<line x1="570.00" y1="247.64" x2="572.20" y2="247.64" stroke="#444" stroke-width="1"/>
<line x1="574.30" y1="219.56" x2="576.50" y2="219.56" stroke="#444" stroke-width="1"/>
<line x1="574.30" y1="247.64" x2="576.50" y2="247.64" stroke="#444" stroke-width="1"/>
<line x1="578.90" y1="219.56" x2="581.10" y2="219.56" stroke="#444" stroke-width="1"/>
<line x1="578.90" y1="247.64" x2="581.10" y2="247.64" stroke="#444" stroke-width="1"/>
<line x1="619.60" y1="219.56" x2="621.80" y2="219.56" stroke="#444" stroke-width="1"/>
<line x1="619.60" y1="247.64" x2="621.80" y2="247.64" stroke="#444" stroke-width="1"/>
<line x1="625.10" y1="219.56" x2="627.30" y2="219.56" stroke="#444" stroke-width="1"/>
<line x1="625.10" y1="247.64" x2="627.30" y2="247.64" stroke="#444" stroke-width="1"/>
<line x1="631.20" y1="219.56" x2="633.40" y2="219.56" stroke="#444" stroke-width="1"/>
<line x1="631.20" y1="247.64" x2="633.40" y2="247.64" stroke="#444" stroke-width="1"/>
<line x1="649.40" y1="219.56" x2="651.60" y2="219.56" stroke="#444" stroke-width="1"/>
<line x1="649.40" y1="247.64" x2="651.60" y2="247.64" stroke="#444" stroke-width="1"/>
<line x1="651.40" y1="219.56" x2="653.60" y2="219.56" stroke="#444" stroke-width="1"/>
<line x1="651.40" y1="247.64" x2="653.60" y2="247.64" stroke="#444" stroke-width="1"/>
<line x1="669.30" y1="219.56" x2="671.50" y2="219.56" stroke="#444" stroke-width="1"/>
<line x1="669.30" y1="247.64" x2="671.50" y2="247.64" stroke="#444" stroke-width="1"/>
<line x1="675.30" y1="219.56" x2="677.50" y2="219.56" stroke="#444" stroke-width="1"/>
<line x1="675.30" y1="247.64" x2="677.50" y2="247.64" stroke="#444" stroke-width="1"/>
<polyline points="473.10,177.30 491.00,177.30 500.70,177.30 509.10,197.70 514.40,199.80 515.30,200.30 516.50,200.70 517.20,200.90 525.30,203.70 530.20,204.90 571.10,212.20 575.40,212.20 580.00,212.50 620.70,216.40 626.20,216.10 632.30,216.00 650.50,217.40 652.50,217.40 670.40,218.70 676.40,218.90" fill="none" stroke="#d01818" stroke-width="1" stroke-dasharray="2,1.3"/>
<polyline points="473.10,289.90 491.00,289.90 500.70,289.90 509.10,269.50 514.40,267.40 515.30,266.90 516.50,266.50 517.20,266.30 525.30,263.50 530.20,262.30 571.10,255.00 575.40,255.00 580.00,254.70 620.70,250.80 626.20,251.10 632.30,251.20 650.50,249.80 652.50,249.80 670.40,248.50 676.40,248.30" fill="none" stroke="#d01818" stroke-width="1" stroke-dasharray="2,1.3"/>
<polyline points="473.10,233.60 491.00,247.00 500.70,248.40 509.10,253.10 514.40,258.20 515.30,262.10 516.50,263.70 517.20,264.50 525.30,272.60 530.20,275.30 571.10,275.60 575.40,276.20 580.00,277.20 620.70,280.80 626.20,280.80 632.30,285.20 650.50,283.20 652.50,286.00 670.40,282.70 676.40,278.00" fill="none" stroke="#111" stroke-width="1"/>
<circle cx="473.1" cy="177.30" r="1.3" fill="#c00"/>
<circle cx="491" cy="177.30" r="1.3" fill="#c00"/>
<circle cx="500.7" cy="177.30" r="1.3" fill="#c00"/>
<circle cx="509.1" cy="197.70" r="1.3" fill="#c00"/>
<circle cx="514.4" cy="199.80" r="1.3" fill="#c00"/>
<circle cx="515.3" cy="200.30" r="1.3" fill="#c00"/>
<circle cx="516.5" cy="200.70" r="1.3" fill="#c00"/>
<circle cx="517.2" cy="200.90" r="1.3" fill="#c00"/>
<circle cx="525.3" cy="203.70" r="1.3" fill="#c00"/>
<circle cx="530.2" cy="204.90" r="1.3" fill="#c00"/>
<circle cx="571.1" cy="212.20" r="1.3" fill="#c00"/>
<circle cx="575.4" cy="212.20" r="1.3" fill="#c00"/>
<circle cx="580" cy="212.50" r="1.3" fill="#c00"/>
<circle cx="620.7" cy="216.40" r="1.3" fill="#c00"/>
<circle cx="626.2" cy="216.10" r="1.3" fill="#c00"/>
<circle cx="632.3" cy="216.00" r="1.3" fill="#c00"/>
<circle cx="650.5" cy="217.40" r="1.3" fill="#c00"/>
<circle cx="652.5" cy="217.40" r="1.3" fill="#c00"/>
<circle cx="670.4" cy="218.70" r="1.3" fill="#c00"/>
<circle cx="676.4" cy="218.90" r="1.3" fill="#c00"/>
<circle cx="473.1" cy="289.90" r="1.3" fill="#c00"/>
<circle cx="491" cy="289.90" r="1.3" fill="#c00"/>
<circle cx="500.7" cy="289.90" r="1.3" fill="#c00"/>
<circle cx="509.1" cy="269.50" r="1.3" fill="#c00"/>
<circle cx="514.4" cy="267.40" r="1.3" fill="#c00"/>
<circle cx="515.3" cy="266.90" r="1.3" fill="#c00"/>
<circle cx="516.5" cy="266.50" r="1.3" fill="#c00"/>
<circle cx="517.2" cy="266.30" r="1.3" fill="#c00"/>
<circle cx="525.3" cy="263.50" r="1.3" fill="#c00"/>
<circle cx="530.2" cy="262.30" r="1.3" fill="#c00"/>
<circle cx="571.1" cy="255.00" r="1.3" fill="#c00"/>
<circle cx="575.4" cy="255.00" r="1.3" fill="#c00"/>
<circle cx="580" cy="254.70" r="1.3" fill="#c00"/>
<circle cx="620.7" cy="250.80" r="1.3" fill="#c00"/>
<circle cx="626.2" cy="251.10" r="1.3" fill="#c00"/>
<circle cx="632.3" cy="251.20" r="1.3" fill="#c00"/>
<circle cx="650.5" cy="249.80" r="1.3" fill="#c00"/>
<circle cx="652.5" cy="249.80" r="1.3" fill="#c00"/>
<circle cx="670.4" cy="248.50" r="1.3" fill="#c00"/>
<circle cx="676.4" cy="248.30" r="1.3" fill="#c00"/>
<circle cx="473.1" cy="233.60" r="1.3" fill="#000"/>
<circle cx="491" cy="247.00" r="1.3" fill="#000"/>
<circle cx="500.7" cy="248.40" r="1.3" fill="#000"/>
<circle cx="509.1" cy="253.10" r="1.3" fill="#000"/>
<circle cx="514.4" cy="258.20" r="1.3" fill="#000"/>
<circle cx="515.3" cy="262.10" r="1.3" fill="#000"/>
<circle cx="516.5" cy="263.70" r="1.3" fill="#000"/>
<circle cx="517.2" cy="264.50" r="1.3" fill="#000"/>
<circle cx="525.3" cy="272.60" r="1.3" fill="#000"/>
<circle cx="530.2" cy="275.30" r="1.3" fill="#000"/>
<circle cx="571.1" cy="275.60" r="1.3" fill="#000"/>
<circle cx="575.4" cy="276.20" r="1.3" fill="#000"/>
<circle cx="580" cy="277.20" r="1.3" fill="#000"/>
<circle cx="620.7" cy="280.80" r="1.3" fill="#000"/>
<circle cx="626.2" cy="280.80" r="1.3" fill="#000"/>
<circle cx="632.3" cy="285.20" r="1.3" fill="#000"/>
<circle cx="650.5" cy="283.20" r="1.3" fill="#000"/>
<circle cx="652.5" cy="286.00" r="1.3" fill="#000"/>
<circle cx="670.4" cy="282.70" r="1.3" fill="#000"/>
<circle cx="676.4" cy="278.00" r="1.3" fill="#000"/>
<text transform="translate(601.3,172.0) scale(0.91,1)" font-size="6.9" font-weight="bold" text-anchor="middle" fill="#3356a0" stroke="#3356a0" stroke-width="0.15">RRR = 10% (alpha=5%, power= 80%)</text>
<text transform="translate(673.8,188.1) scale(0.9,1)" font-size="6.9" font-weight="bold" text-anchor="end" fill="#3356a0" stroke="#3356a0" stroke-width="0.15">AIS = 861 836</text>
<text transform="translate(536.4,199.5) scale(0.9,1)" font-size="6.9" font-weight="bold" text-anchor="start" fill="#4b8429" stroke="#4b8429" stroke-width="0.15">APIS = 283 345</text></g></svg>
</body></html>
